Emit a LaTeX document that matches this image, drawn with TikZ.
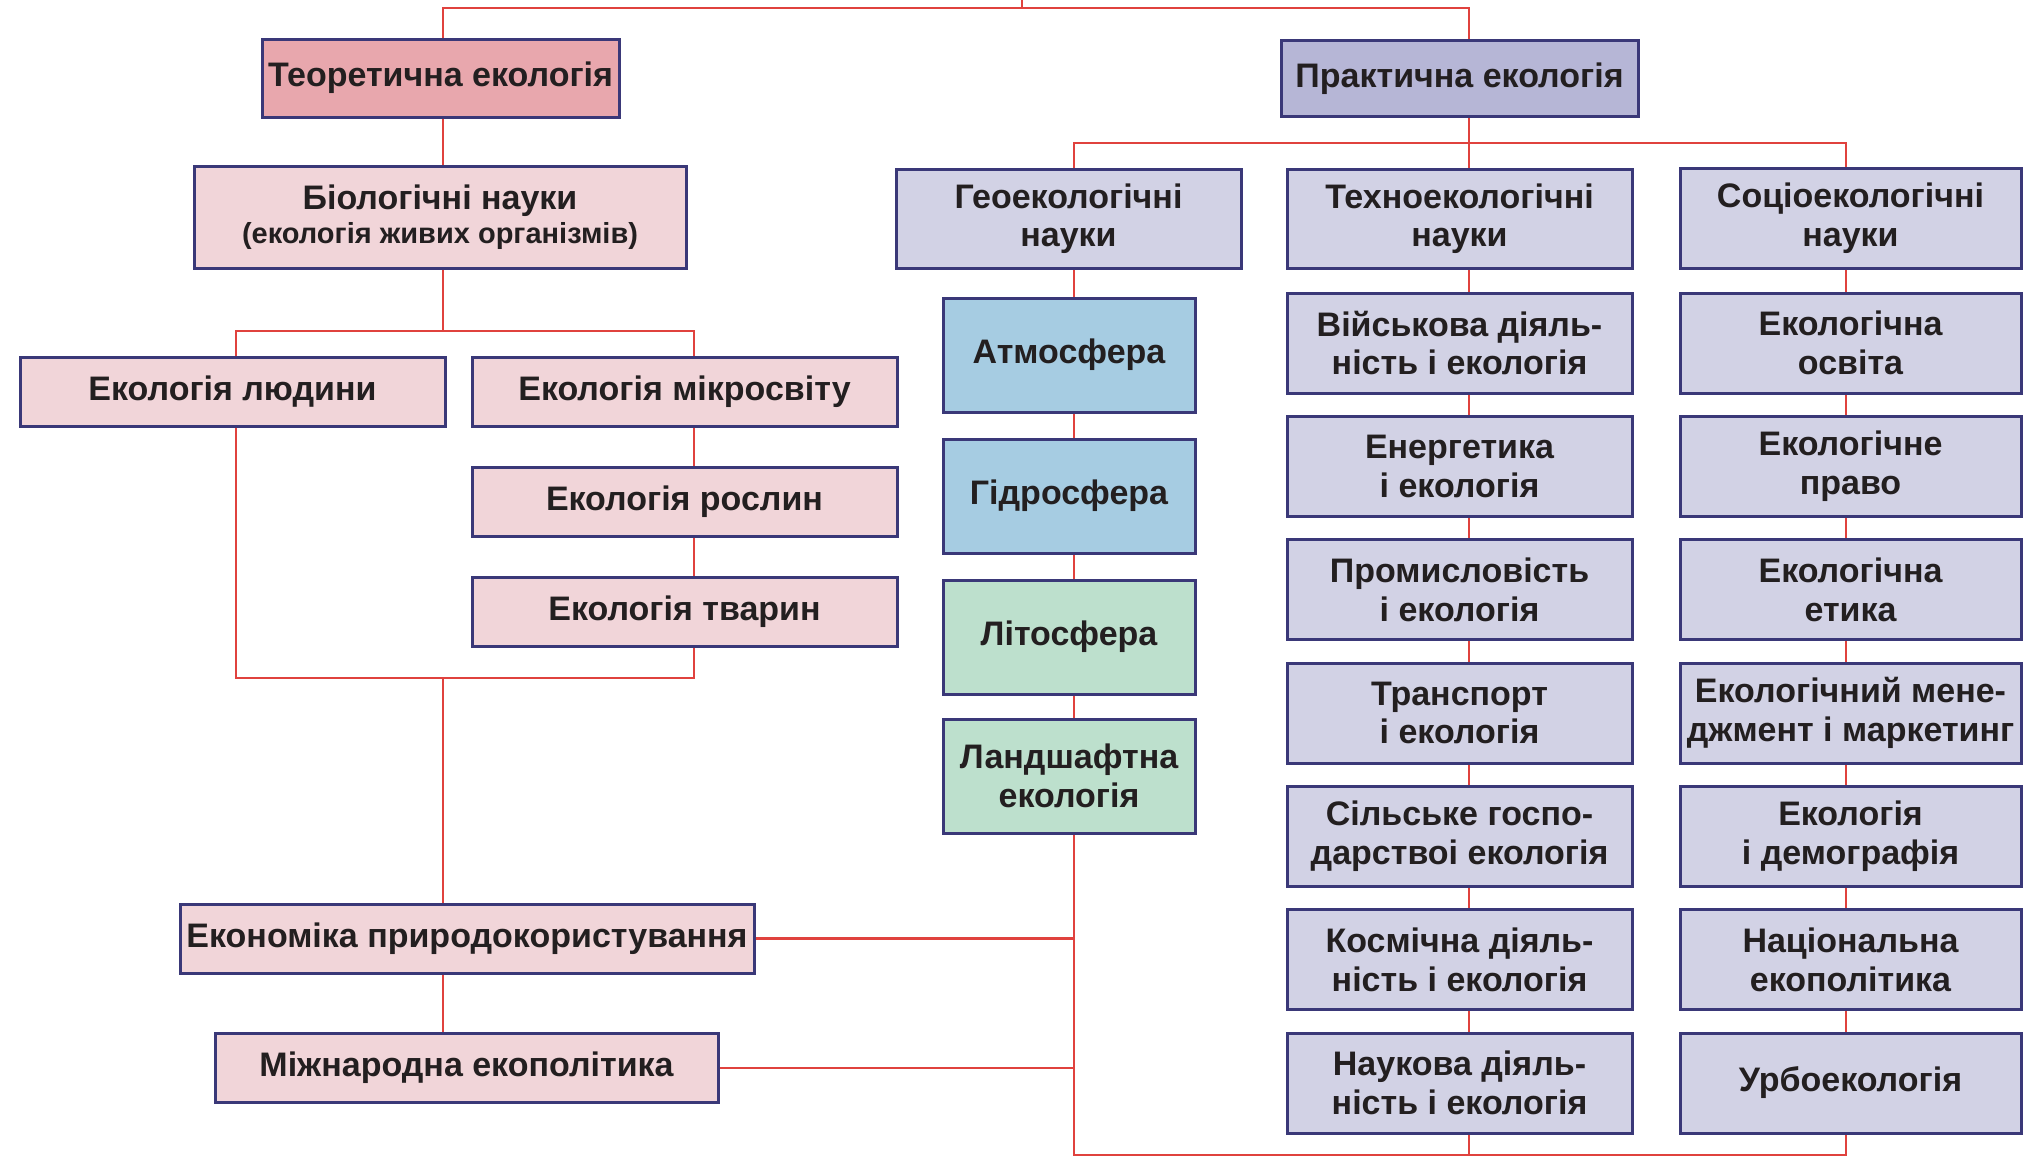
\documentclass[tikz,border=0pt]{standalone}
\usepackage{fontspec}
\setmainfont{Liberation Sans}
\definecolor{lnred}{RGB}{224,66,62}
\definecolor{bordc}{RGB}{58,56,120}
\definecolor{txtc}{RGB}{35,31,32}
\definecolor{pinkD}{RGB}{232,167,173}
\definecolor{pinkL}{RGB}{241,213,217}
\definecolor{lavD}{RGB}{182,182,214}
\definecolor{lavL}{RGB}{210,210,229}
\definecolor{blueL}{RGB}{166,204,226}
\definecolor{greenL}{RGB}{189,224,205}
\begin{document}
\begin{tikzpicture}[x=1pt,y=-1pt,
  box/.style={draw=bordc, line width=3pt, rectangle, inner sep=0pt, align=center,
    text=txtc, font=\fontsize{34}{38.5}\selectfont\bfseries},
  conn/.style={draw=lnred, line width=2.5pt},
  pk/.style={box, fill=pinkL, minimum height=69},
  tc/.style={box, fill=lavL, minimum width=345, minimum height=100},
  sc/.style={box, fill=lavL, minimum width=341, minimum height=100},
  gc/.style={box, minimum width=252, minimum height=114}]
\useasboundingbox[fill=white] (0,0) rectangle (2023,1157);

% line x positions
\coordinate (lx) at (443,0);
\coordinate (hx) at (236,0);
\coordinate (mx) at (694,0);
\coordinate (gx) at (1074,0);
\coordinate (tx) at (1469,0);
\coordinate (sx) at (1846,0);
\coordinate (topstub) at (1022,0);
\coordinate (topbar) at (1022,8);
\coordinate (pbar) at (0,143);
\coordinate (bbar) at (0,331);
\coordinate (lbar) at (0,678);
\coordinate (botbar) at (0,1155);

% top level
\node[box, fill=pinkD, minimum width=357, minimum height=78] (teor) at (440.5,78) {Теоретична екологія};
\node[box, fill=lavD, minimum width=357, minimum height=76] (prak) at (1459.5,78.5) {Практична екологія};

% left branch
\node[box, fill=pinkL, minimum width=492, minimum height=102] (bio) at (440,217)
  {Біологічні науки\\[-4pt]{\fontsize{29}{33}\selectfont(екологія живих організмів)}};
\node[pk, minimum width=425] (ludyny) at (232.5,391.5) {Екологія людини};
\node[pk, minimum width=425] (mikro) at (684.5,391.5) {Екологія мікросвіту};
\node[pk, minimum width=425] (roslyn) at (684.5,501.5) {Екологія рослин};
\node[pk, minimum width=425] (tvaryn) at (684.5,611.5) {Екологія тварин};
\node[pk, minimum width=574] (ekon) at (467,938.5) {Економіка природокористування};
\node[pk, minimum width=503] (mizh) at (466.5,1068) {Міжнародна екополітика};

% geo column
\node[box, fill=lavL, minimum width=345, minimum height=99] (geoh) at (1068.5,218.5) {Геоекологічні\\науки};
\node[gc, fill=blueL] (atm) at (1069,355) {Атмосфера};
\node[gc, fill=blueL] (hydro) at (1069,496) {Гідросфера};
\node[gc, fill=greenL] (lito) at (1069,637) {Літосфера};
\node[gc, fill=greenL] (landsh) at (1069,776) {Ландшафтна\\екологія};

% techno column
\node[tc, minimum height=99] (techh) at (1459.5,218.5) {Техноекологічні\\науки};
\node[tc] (viisk) at (1459.5,343) {Військова діяль-\\ність і екологія};
\node[tc] (energ) at (1459.5,466.3) {Енергетика\\і екологія};
\node[tc] (prom) at (1459.5,589.7) {Промисловість\\і екологія};
\node[tc] (transp) at (1459.5,713) {Транспорт\\і екологія};
\node[tc] (silsk) at (1459.5,836.3) {Сільське госпо-\\дарствоі екологія};
\node[tc] (kosm) at (1459.5,959.7) {Космічна діяль-\\ність і екологія};
\node[tc] (nauk) at (1459.5,1083) {Наукова діяль-\\ність і екологія};

% socio column
\node[sc] (soch) at (1850.5,218) {Соціоекологічні\\науки};
\node[sc] (osvita) at (1850.5,343) {Екологічна\\освіта};
\node[sc] (pravo) at (1850.5,466.3) {Екологічне\\право};
\node[sc] (etyka) at (1850.5,589.7) {Екологічна\\етика};
\node[sc] (menedzh) at (1850.5,713) {Екологічний мене-\\джмент і маркетинг};
\node[sc] (demogr) at (1850.5,836.3) {Екологія\\і демографія};
\node[sc] (natsion) at (1850.5,959.7) {Національна\\екополітика};
\node[sc] (urbo) at (1850.5,1083) {Урбоекологія};

% connectors: top
\draw[conn] (topstub) -- (topbar);
\draw[conn] (teor.north -| lx) -- (lx |- topbar) -- (tx |- topbar) -- (prak.north -| tx);

% practical branch
\draw[conn] (prak.south -| tx) -- (techh.north -| tx);
\draw[conn] (geoh.north -| gx) -- (gx |- pbar) -- (sx |- pbar) -- (soch.north -| sx);

\draw[conn] (geoh.south -| gx) -- (atm.north -| gx);
\draw[conn] (atm.south -| gx) -- (hydro.north -| gx);
\draw[conn] (hydro.south -| gx) -- (lito.north -| gx);
\draw[conn] (lito.south -| gx) -- (landsh.north -| gx);

\draw[conn] (techh.south -| tx) -- (viisk.north -| tx);
\draw[conn] (viisk.south -| tx) -- (energ.north -| tx);
\draw[conn] (energ.south -| tx) -- (prom.north -| tx);
\draw[conn] (prom.south -| tx) -- (transp.north -| tx);
\draw[conn] (transp.south -| tx) -- (silsk.north -| tx);
\draw[conn] (silsk.south -| tx) -- (kosm.north -| tx);
\draw[conn] (kosm.south -| tx) -- (nauk.north -| tx);

\draw[conn] (soch.south -| sx) -- (osvita.north -| sx);
\draw[conn] (osvita.south -| sx) -- (pravo.north -| sx);
\draw[conn] (pravo.south -| sx) -- (etyka.north -| sx);
\draw[conn] (etyka.south -| sx) -- (menedzh.north -| sx);
\draw[conn] (menedzh.south -| sx) -- (demogr.north -| sx);
\draw[conn] (demogr.south -| sx) -- (natsion.north -| sx);
\draw[conn] (natsion.south -| sx) -- (urbo.north -| sx);

\draw[conn] (landsh.south -| gx) -- (gx |- botbar) -- (sx |- botbar) -- (urbo.south -| sx);
\draw[conn] (nauk.south -| tx) -- (tx |- botbar);

% theoretical branch
\draw[conn] (teor.south -| lx) -- (bio.north -| lx);
\draw[conn] (bio.south -| lx) -- (lx |- bbar);
\draw[conn] (ludyny.north -| hx) -- (hx |- bbar) -- (mx |- bbar) -- (mikro.north -| mx);
\draw[conn] (mikro.south -| mx) -- (roslyn.north -| mx);
\draw[conn] (roslyn.south -| mx) -- (tvaryn.north -| mx);
\draw[conn] (ludyny.south -| hx) -- (hx |- lbar) -- (mx |- lbar) -- (tvaryn.south -| mx);
\draw[conn] (lx |- lbar) -- (ekon.north -| lx);
\draw[conn] (ekon.south -| lx) -- (mizh.north -| lx);
\draw[conn] (ekon.east) -- (ekon.east -| gx);
\draw[conn] (mizh.east) -- (mizh.east -| gx);
\end{tikzpicture}
\end{document}
